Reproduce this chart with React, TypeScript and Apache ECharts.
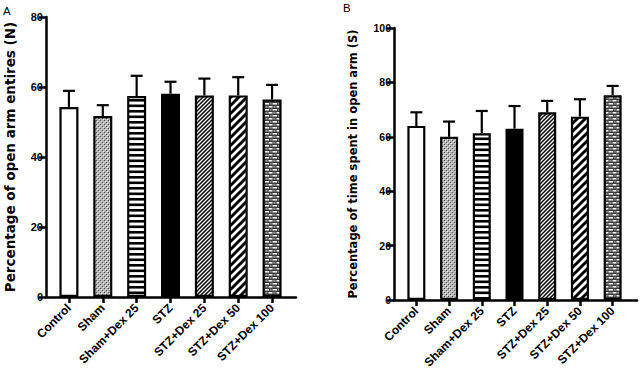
import React, { useEffect, useRef } from "react";
import * as echarts from "echarts";

const groups = ["Control", "Sham", "Sham+Dex 25", "STZ", "STZ+Dex 25", "STZ+Dex 50", "STZ+Dex 100"];

// Panel A: open arm entries (%), mean and upper error
const entriesMean = [54.3, 51.7, 57.4, 58.1, 57.6, 57.6, 56.4];
const entriesUpper = [58.9, 54.8, 63.2, 61.5, 62.4, 62.8, 60.6];

// Panel B: time spent in open arm (%), mean and upper error
const timeMean = [64.0, 60.0, 61.3, 63.0, 69.0, 67.4, 75.3];
const timeUpper = [69.0, 65.6, 69.5, 71.3, 73.2, 73.8, 78.7];

const entriesTicks = { min: 0, max: 80, interval: 20 };
const timeTicks = { min: 0, max: 100, interval: 20 };

const FONT = "Liberation Sans, Arial, sans-serif";
const TITLE_FONT = "DejaVu Sans, Liberation Sans, sans-serif";

function tile(w: number, h: number, draw: (c: CanvasRenderingContext2D) => void) {
  const cv = document.createElement("canvas");
  cv.width = w;
  cv.height = h;
  const ctx = cv.getContext("2d")!;
  draw(ctx);
  return cv;
}

function makeFills() {
  const dots = tile(4, 4, (c) => {
    c.fillStyle = "#b4b4b4";
    c.fillRect(0, 0, 4, 4);
    c.fillStyle = "#ffffff";
    c.fillRect(1, 1, 1, 1);
    c.fillRect(3, 3, 1, 1);
    c.fillStyle = "#444444";
    c.fillRect(0, 0, 1, 1);
    c.fillRect(2, 2, 1, 1);
  });
  const hstripes = tile(4, 11, (c) => {
    c.fillStyle = "#ffffff";
    c.fillRect(0, 0, 4, 11);
    c.fillStyle = "#000000";
    c.fillRect(0, 0, 4, 2.6);
    c.fillRect(0, 5.5, 4, 2.6);
  });
  const diag = (size: number, lw: number, bg: string) =>
    tile(size, size, (c) => {
      c.fillStyle = bg;
      c.fillRect(0, 0, size, size);
      c.strokeStyle = "#000000";
      c.lineWidth = lw;
      c.lineCap = "square";
      for (const off of [-size, 0, size]) {
        c.beginPath();
        c.moveTo(off, size);
        c.lineTo(off + size, 0);
        c.stroke();
      }
    });
  const brick = tile(8, 6, (c) => {
    c.fillStyle = "#3c3c3c";
    c.fillRect(0, 0, 8, 6);
    c.fillStyle = "#f4f4f4";
    c.fillRect(0.5, 1, 4.5, 1.6);
    c.fillRect(4.5, 4, 4, 1.6);
    c.fillRect(0, 4, 0.5, 1.6);
    c.fillStyle = "#9a9a9a";
    c.fillRect(5.8, 1, 1.8, 1.6);
    c.fillRect(1.3, 4, 2.2, 1.6);
  });
  const pat = (img: HTMLCanvasElement) => ({ image: img, repeat: "repeat" });
  return [
    "#ffffff",
    pat(dots),
    pat(hstripes),
    "#000000",
    pat(diag(4, 1.5, "#ffffff")),
    pat(diag(8, 3, "#ffffff")),
    pat(brick),
  ];
}

export default function App() {
  const ref = useRef<HTMLDivElement>(null);

  useEffect(() => {
    if (!ref.current) return;
    const chart = echarts.init(ref.current, null, { renderer: "svg" });
    const fills = makeFills();

    const lineAxisX = (gridIndex: number) => ({
      type: "value",
      gridIndex,
      min: 0,
      max: 1,
      axisLine: { show: true, onZero: false, lineStyle: { color: "#000", width: 2.5 } },
      axisTick: { show: false },
      axisLabel: { show: false },
      splitLine: { show: false },
    });
    const catAxisX = (gridIndex: number) => ({
      type: "category",
      gridIndex,
      data: groups,
      boundaryGap: true,
      axisLine: { show: false },
      axisTick: { show: true, alignWithLabel: true, length: 6, lineStyle: { color: "#000", width: 2.5 } },
      axisLabel: {
        rotate: 45,
        margin: 9,
        interval: 0,
        color: "#000",
        fontFamily: FONT,
        fontWeight: "bold",
        fontSize: 12,
      },
    });
    const valueAxisY = (
      gridIndex: number,
      t: typeof entriesTicks,
      name: string,
      nameGap: number,
      nameSize: number,
      tickSize: number
    ) => ({
      type: "value",
      gridIndex,
      min: t.min,
      max: t.max,
      interval: t.interval,
      name,
      nameLocation: "middle",
      nameGap,
      nameTextStyle: { color: "#000", fontFamily: TITLE_FONT, fontWeight: "bold", fontSize: nameSize },
      axisLine: { show: true, lineStyle: { color: "#000", width: 2.5 } },
      axisTick: { show: true, length: 7, lineStyle: { color: "#000", width: 2.5 } },
      axisLabel: { color: "#000", fontFamily: FONT, fontWeight: "bold", fontSize: tickSize, margin: 3 },
      splitLine: { show: false },
    });
    const hiddenY = (gridIndex: number, t: typeof entriesTicks) => ({
      type: "value",
      gridIndex,
      min: t.min,
      max: t.max,
      interval: t.interval,
      show: false,
      splitLine: { show: false },
    });

    const barSeries = (xi: number, yi: number, means: number[], width: number) => ({
      type: "bar",
      xAxisIndex: xi,
      yAxisIndex: yi,
      barWidth: width,
      data: means.map((v, i) => ({
        value: v,
        itemStyle: { color: fills[i], borderColor: "#000", borderWidth: 2.2 },
      })),
      z: 3,
    });
    const errSeries = (xi: number, yi: number, means: number[], upper: number[]) => ({
      type: "custom",
      xAxisIndex: xi,
      yAxisIndex: yi,
      data: means.map((m, i) => [i, m, upper[i]]),
      encode: { x: 0, y: [1, 2] },
      z: 2,
      renderItem: (_p: any, api: any) => {
        const base = api.coord([api.value(0), api.value(1)]);
        const top = api.coord([api.value(0), api.value(2)]);
        const half = 6;
        return {
          type: "group",
          children: [
            {
              type: "line",
              shape: { x1: base[0], y1: base[1], x2: top[0], y2: top[1] },
              style: { stroke: "#000", lineWidth: 2.2 },
            },
            {
              type: "line",
              shape: { x1: top[0] - half, y1: top[1], x2: top[0] + half, y2: top[1] },
              style: { stroke: "#000", lineWidth: 2.2 },
            },
          ],
        };
      },
    });

    chart.setOption({
      animation: false,
      backgroundColor: "#ffffff",
      title: [
        {
          text: "A",
          left: 3,
          top: 5,
          padding: 0,
          textStyle: { fontFamily: FONT, fontWeight: "normal", fontSize: 11.5, color: "#000" },
        },
        {
          text: "B",
          left: 343,
          top: 2,
          padding: 0,
          textStyle: { fontFamily: FONT, fontWeight: "normal", fontSize: 11.5, color: "#000" },
        },
      ],
      grid: [
        { left: 46, top: 17, width: 250, height: 280 },
        { left: 52, top: 17, width: 237, height: 280 },
        { left: 394, top: 28, width: 243, height: 272 },
        { left: 400, top: 28, width: 229, height: 272 },
      ],
      xAxis: [lineAxisX(0), catAxisX(1), lineAxisX(2), catAxisX(3)],
      yAxis: [
        valueAxisY(0, entriesTicks, "Percentage of open arm entires (N)", 29, 13.5, 11),
        hiddenY(1, entriesTicks),
        valueAxisY(2, timeTicks, "Percentage of time spent in open arm (S)", 35, 11.5, 10.5),
        hiddenY(3, timeTicks),
      ],
      series: [
        errSeries(1, 1, entriesMean, entriesUpper),
        barSeries(1, 1, entriesMean, 19),
        errSeries(3, 3, timeMean, timeUpper),
        barSeries(3, 3, timeMean, 18),
      ],
    });

    return () => chart.dispose();
  }, []);

  return (
    <div
      ref={ref}
      style={{ position: "fixed", left: 0, top: 0, width: 640, height: 378, background: "#fff" }}
    />
  );
}
